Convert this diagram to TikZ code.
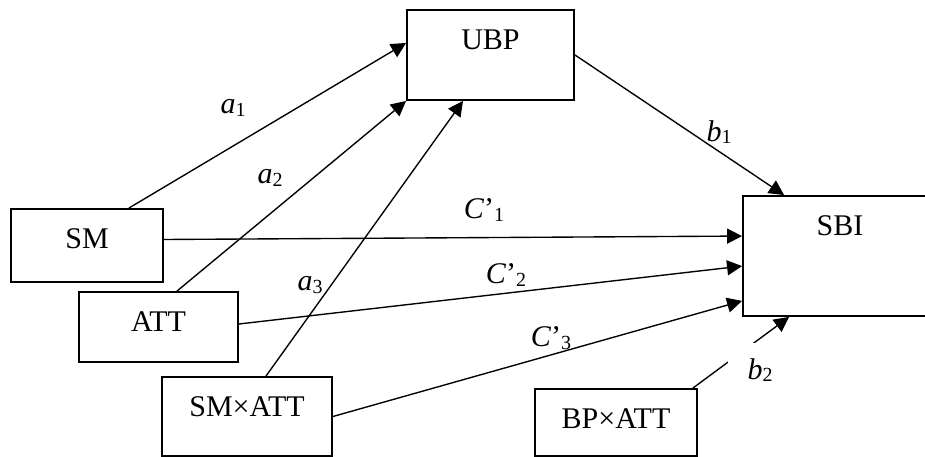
\documentclass[tikz,border=0pt,12pt]{standalone}
\usepackage{fontspec}
\setmainfont{Liberation Serif}
\usepackage{tikz}
\usetikzlibrary{arrows.meta}

% path coefficient: italic letter, lowered index
\newcommand{\coef}[2]{\textit{#1}\raisebox{-1pt}{\scriptsize #2}}

\begin{document}
\begin{tikzpicture}[x=0.4pt, y=-0.4pt,
	box/.style 2 args={draw, line width=.75pt, inner ysep=0pt,
		text height=16pt, minimum width=#1, text depth=#2},
	path/.style={line width=.55pt, -{Triangle[length=6pt, width=6pt]}},
	coeff/.style={inner sep=0pt},
	cover/.style={fill=white, inner xsep=8pt, inner ysep=6pt}]
	\clip (0,0) rectangle (925,457);
	
	% variables
	\node[box={60.8pt}{13.2pt}] (sm) at (87,245.5) {SM};
	\node[box={63.6pt}{12pt}] (att) at (158.5,327) {ATT};
	\node[box={68pt}{15.6pt}] (smatt) at (247,416.5) {SM×ATT};
	\node[box={66.8pt}{20pt}] (ubp) at (490.5,55) {UBP};
	\node[box={77.6pt}{32pt}] (sbi) at (840,256) {SBI};
	\node[box={64.8pt}{10.8pt}] (bpatt) at (616,422.5) {BP×ATT};
	
	% paths to the mediator
	\draw[path] ([xshift=-14pt]sm.north east) -- ([yshift=4.8pt]ubp.west);
	\draw[path] ([xshift=7.4pt]att.north) -- (ubp.south west);
	\draw[path] ([xshift=7.6pt]smatt.north) -- ([xshift=-11pt]ubp.south);
	\draw[path] (ubp.east) -- ([xshift=16.8pt]sbi.north west);
	
	% direct paths
	\draw[path] ([yshift=2.4pt]sm.east) -- ([yshift=-16.4pt]sbi.north west);
	\draw[path] ([yshift=1.2pt]att.east) -- ([yshift=-28.4pt]sbi.north west);
	\draw[path] (smatt.east) -- ([yshift=6.4pt]sbi.south west);
	\draw[path] ([xshift=-2pt]bpatt.north east) -- ([xshift=18.8pt]sbi.south west);
	
	% coefficients
	\node[coeff] (a1) at (233,108) {\coef{a}{1}};
	\node[coeff] (a2) at (270,178) {\coef{a}{2}};
	\node[coeff] (a3) at (310,285) {\coef{a}{3}};
	\node[coeff] (b1) at (719,132) {\coef{b}{1}};
	\node[coeff] (c1) at (484,210) {\coef{C}{}’\raisebox{-1pt}{\scriptsize 1}};
	\node[coeff] (c2) at (506,275) {\coef{C}{}’\raisebox{-1pt}{\scriptsize 2}};
	\node[coeff] (c3) at (551,338) {\coef{C}{}’\raisebox{-1pt}{\scriptsize 3}};
	\node[cover, anchor=north west] (b2) at (727,343) {\coef{b}{2}};
\end{tikzpicture}
\end{document}
